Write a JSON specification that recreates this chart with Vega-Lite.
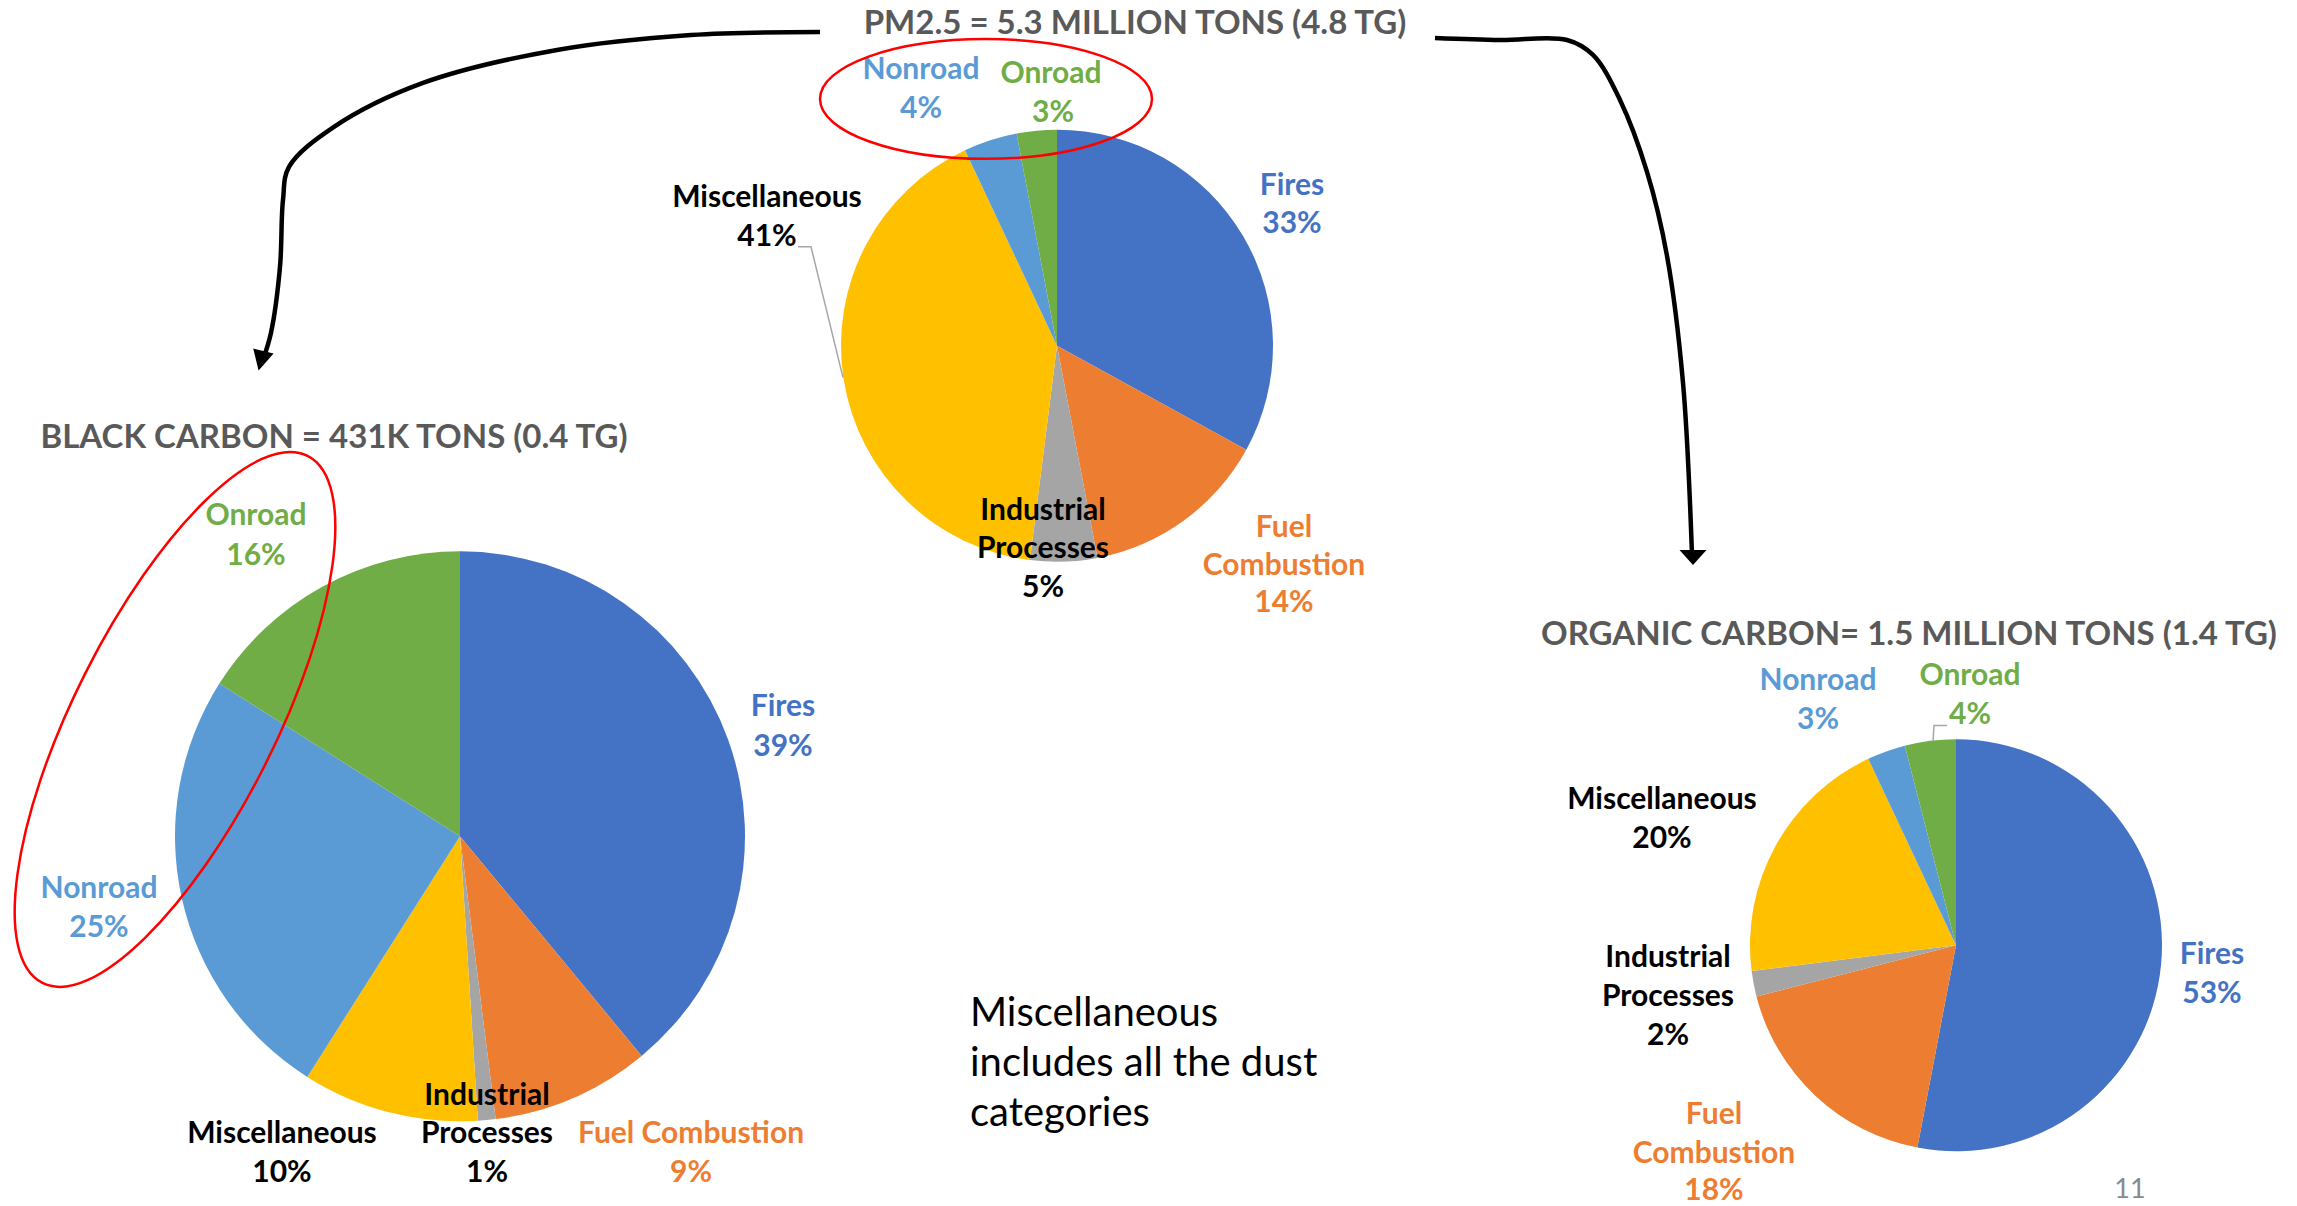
{
  "$schema": "https://vega.github.io/schema/vega-lite/v6.json",
  "width": 2297,
  "height": 1206,
  "autosize": {"type": "fit", "contains": "padding"},
  "padding": 0,
  "background": "white",
  "config": {"view": {"stroke": null}},
  "resolve": {"scale": {"color": "independent", "theta": "independent"}},
  "datasets": {
    "pies": [
      {"chart": "PM2.5", "category": "Fires", "share": 33},
      {"chart": "PM2.5", "category": "Fuel Combustion", "share": 14},
      {"chart": "PM2.5", "category": "Industrial Processes", "share": 5},
      {"chart": "PM2.5", "category": "Miscellaneous", "share": 41},
      {"chart": "PM2.5", "category": "Nonroad", "share": 4},
      {"chart": "PM2.5", "category": "Onroad", "share": 3},
      {"chart": "BC", "category": "Fires", "share": 39},
      {"chart": "BC", "category": "Fuel Combustion", "share": 9},
      {"chart": "BC", "category": "Industrial Processes", "share": 1},
      {"chart": "BC", "category": "Miscellaneous", "share": 10},
      {"chart": "BC", "category": "Nonroad", "share": 25},
      {"chart": "BC", "category": "Onroad", "share": 16},
      {"chart": "OC", "category": "Fires", "share": 53},
      {"chart": "OC", "category": "Fuel Combustion", "share": 18},
      {"chart": "OC", "category": "Industrial Processes", "share": 2},
      {"chart": "OC", "category": "Miscellaneous", "share": 20},
      {"chart": "OC", "category": "Nonroad", "share": 3},
      {"chart": "OC", "category": "Onroad", "share": 4}
    ],
    "labels": [
      {"category": "Nonroad", "text": "Nonroad", "x": 921, "y": 70},
      {"category": "Nonroad", "text": "4%", "x": 921, "y": 109},
      {"category": "Onroad", "text": "Onroad", "x": 1051, "y": 74},
      {"category": "Onroad", "text": "3%", "x": 1053, "y": 113},
      {"category": "Fires", "text": "Fires", "x": 1292, "y": 186},
      {"category": "Fires", "text": "33%", "x": 1292, "y": 224},
      {"category": "Fuel Combustion", "text": "Fuel", "x": 1284, "y": 528},
      {"category": "Fuel Combustion", "text": "Combustion", "x": 1284, "y": 566},
      {"category": "Fuel Combustion", "text": "14%", "x": 1284, "y": 604},
      {"category": "Industrial Processes", "text": "Industrial", "x": 1043, "y": 511},
      {"category": "Industrial Processes", "text": "Processes", "x": 1043, "y": 549},
      {"category": "Industrial Processes", "text": "5%", "x": 1043, "y": 588},
      {"category": "Miscellaneous", "text": "Miscellaneous", "x": 767, "y": 198},
      {"category": "Miscellaneous", "text": "41%", "x": 767, "y": 237},
      {"category": "Onroad", "text": "Onroad", "x": 256, "y": 516},
      {"category": "Onroad", "text": "16%", "x": 256, "y": 556},
      {"category": "Fires", "text": "Fires", "x": 783, "y": 708},
      {"category": "Fires", "text": "39%", "x": 783, "y": 748},
      {"category": "Nonroad", "text": "Nonroad", "x": 99, "y": 890},
      {"category": "Nonroad", "text": "25%", "x": 99, "y": 929},
      {"category": "Miscellaneous", "text": "Miscellaneous", "x": 282, "y": 1135},
      {"category": "Miscellaneous", "text": "10%", "x": 282, "y": 1174},
      {"category": "Industrial Processes", "text": "Industrial", "x": 487, "y": 1097},
      {"category": "Industrial Processes", "text": "Processes", "x": 487, "y": 1135},
      {"category": "Industrial Processes", "text": "1%", "x": 487, "y": 1174},
      {"category": "Fuel Combustion", "text": "Fuel Combustion", "x": 691, "y": 1135},
      {"category": "Fuel Combustion", "text": "9%", "x": 691, "y": 1174},
      {"category": "Nonroad", "text": "Nonroad", "x": 1818, "y": 682},
      {"category": "Nonroad", "text": "3%", "x": 1818, "y": 721},
      {"category": "Onroad", "text": "Onroad", "x": 1970, "y": 677},
      {"category": "Onroad", "text": "4%", "x": 1970, "y": 716},
      {"category": "Miscellaneous", "text": "Miscellaneous", "x": 1662, "y": 801},
      {"category": "Miscellaneous", "text": "20%", "x": 1662, "y": 840},
      {"category": "Industrial Processes", "text": "Industrial", "x": 1668, "y": 959},
      {"category": "Industrial Processes", "text": "Processes", "x": 1668, "y": 998},
      {"category": "Industrial Processes", "text": "2%", "x": 1668, "y": 1037},
      {"category": "Fires", "text": "Fires", "x": 2212, "y": 956},
      {"category": "Fires", "text": "53%", "x": 2212, "y": 995},
      {"category": "Fuel Combustion", "text": "Fuel", "x": 1714, "y": 1116},
      {"category": "Fuel Combustion", "text": "Combustion", "x": 1714, "y": 1155},
      {"category": "Fuel Combustion", "text": "18%", "x": 1714, "y": 1192}
    ],
    "titles": [
      {"text": "PM2.5 = 5.3 MILLION TONS (4.8 TG)", "x": 1135, "y": 24},
      {"text": "BLACK CARBON = 431K TONS (0.4 TG)", "x": 334, "y": 438},
      {"text": "ORGANIC CARBON= 1.5 MILLION TONS (1.4 TG)", "x": 1909, "y": 636}
    ],
    "note": [
      {"text": "Miscellaneous", "x": 970, "y": 1015},
      {"text": "includes all the dust", "x": 970, "y": 1065},
      {"text": "categories", "x": 970, "y": 1115}
    ],
    "page": [
      {"text": "11", "x": 2130, "y": 1191}
    ],
    "arrows": [
      {"path": "left", "seq": 1, "x": 820, "y": 32},
      {"path": "left", "seq": 2, "x": 691, "y": 35},
      {"path": "left", "seq": 3, "x": 557, "y": 50},
      {"path": "left", "seq": 4, "x": 423, "y": 83},
      {"path": "left", "seq": 5, "x": 334, "y": 127},
      {"path": "left", "seq": 6, "x": 289, "y": 167},
      {"path": "left", "seq": 7, "x": 283, "y": 200},
      {"path": "left", "seq": 8, "x": 280, "y": 267},
      {"path": "left", "seq": 9, "x": 271, "y": 333},
      {"path": "left", "seq": 10, "x": 263, "y": 360},
      {"path": "right", "seq": 1, "x": 1435, "y": 38},
      {"path": "right", "seq": 2, "x": 1500, "y": 40},
      {"path": "right", "seq": 3, "x": 1567, "y": 40},
      {"path": "right", "seq": 4, "x": 1593, "y": 55},
      {"path": "right", "seq": 5, "x": 1620, "y": 100},
      {"path": "right", "seq": 6, "x": 1647, "y": 172},
      {"path": "right", "seq": 7, "x": 1667, "y": 256},
      {"path": "right", "seq": 8, "x": 1683, "y": 383},
      {"path": "right", "seq": 9, "x": 1692, "y": 555}
    ],
    "leaders": [
      {"path": "pm", "seq": 1, "x": 798, "y": 247},
      {"path": "pm", "seq": 2, "x": 811, "y": 247},
      {"path": "pm", "seq": 3, "x": 843, "y": 378},
      {"path": "oc", "seq": 1, "x": 1947, "y": 726},
      {"path": "oc", "seq": 2, "x": 1934, "y": 726},
      {"path": "oc", "seq": 3, "x": 1933, "y": 742}
    ]
  },
  "layer": [
    {
      "data": {"name": "pies"},
      "transform": [{"filter": "datum.chart === 'PM2.5'"}],
      "mark": {"type": "arc", "outerRadius": 216, "strokeWidth": 0},
      "encoding": {
        "theta": {"field": "share", "type": "quantitative", "stack": true},
        "order": {"field": "category", "type": "ordinal", "sort": "ascending"},
        "color": {"field": "category", "type": "nominal", "legend": null,
          "scale": {"domain": ["Fires", "Fuel Combustion", "Industrial Processes", "Miscellaneous", "Nonroad", "Onroad"],
                    "range": ["#4472C4", "#ED7D31", "#A5A5A5", "#FFC000", "#5B9BD5", "#70AD47"]}},
        "x": {"datum": 1057, "type": "quantitative", "axis": null, "scale": {"domain": [0, 2297], "nice": false, "zero": false}},
        "y": {"datum": 346, "type": "quantitative", "axis": null, "scale": {"domain": [0, 1206], "nice": false, "zero": false, "reverse": true}}
      }
    },
    {
      "data": {"name": "pies"},
      "transform": [{"filter": "datum.chart === 'BC'"}],
      "mark": {"type": "arc", "outerRadius": 285, "strokeWidth": 0},
      "encoding": {
        "theta": {"field": "share", "type": "quantitative", "stack": true},
        "order": {"field": "category", "type": "ordinal", "sort": "ascending"},
        "color": {"field": "category", "type": "nominal", "legend": null,
          "scale": {"domain": ["Fires", "Fuel Combustion", "Industrial Processes", "Miscellaneous", "Nonroad", "Onroad"],
                    "range": ["#4472C4", "#ED7D31", "#A5A5A5", "#FFC000", "#5B9BD5", "#70AD47"]}},
        "x": {"datum": 460, "type": "quantitative", "axis": null, "scale": {"domain": [0, 2297], "nice": false, "zero": false}},
        "y": {"datum": 837, "type": "quantitative", "axis": null, "scale": {"domain": [0, 1206], "nice": false, "zero": false, "reverse": true}}
      }
    },
    {
      "data": {"name": "pies"},
      "transform": [{"filter": "datum.chart === 'OC'"}],
      "mark": {"type": "arc", "outerRadius": 206, "strokeWidth": 0},
      "encoding": {
        "theta": {"field": "share", "type": "quantitative", "stack": true},
        "order": {"field": "category", "type": "ordinal", "sort": "ascending"},
        "color": {"field": "category", "type": "nominal", "legend": null,
          "scale": {"domain": ["Fires", "Fuel Combustion", "Industrial Processes", "Miscellaneous", "Nonroad", "Onroad"],
                    "range": ["#4472C4", "#ED7D31", "#A5A5A5", "#FFC000", "#5B9BD5", "#70AD47"]}},
        "x": {"datum": 1956, "type": "quantitative", "axis": null, "scale": {"domain": [0, 2297], "nice": false, "zero": false}},
        "y": {"datum": 946, "type": "quantitative", "axis": null, "scale": {"domain": [0, 1206], "nice": false, "zero": false, "reverse": true}}
      }
    },
    {
      "data": {"name": "leaders"},
      "mark": {"type": "line", "stroke": "#A6A6A6", "strokeWidth": 1.5, "interpolate": "linear"},
      "encoding": {
        "x": {"field": "x", "type": "quantitative", "axis": null, "scale": {"domain": [0, 2297], "nice": false, "zero": false}},
        "y": {"field": "y", "type": "quantitative", "axis": null, "scale": {"domain": [0, 1206], "nice": false, "zero": false, "reverse": true}},
        "detail": {"field": "path", "type": "nominal"},
        "order": {"field": "seq", "type": "quantitative"}
      }
    },
    {
      "data": {"name": "labels"},
      "mark": {"type": "text", "font": "Lato", "fontWeight": "bold", "fontSize": 30, "align": "center", "baseline": "middle"},
      "encoding": {
        "x": {"field": "x", "type": "quantitative", "axis": null, "scale": {"domain": [0, 2297], "nice": false, "zero": false}},
        "y": {"field": "y", "type": "quantitative", "axis": null, "scale": {"domain": [0, 1206], "nice": false, "zero": false, "reverse": true}},
        "text": {"field": "text", "type": "nominal"},
        "color": {"field": "category", "type": "nominal", "legend": null,
          "scale": {"domain": ["Fires", "Fuel Combustion", "Industrial Processes", "Miscellaneous", "Nonroad", "Onroad"],
                    "range": ["#4472C4", "#ED7D31", "#000000", "#000000", "#5B9BD5", "#70AD47"]}}
      }
    },
    {
      "data": {"name": "titles"},
      "mark": {"type": "text", "font": "Lato", "fontWeight": "bold", "fontSize": 33, "align": "center", "baseline": "middle", "color": "#595959"},
      "encoding": {
        "x": {"field": "x", "type": "quantitative", "axis": null, "scale": {"domain": [0, 2297], "nice": false, "zero": false}},
        "y": {"field": "y", "type": "quantitative", "axis": null, "scale": {"domain": [0, 1206], "nice": false, "zero": false, "reverse": true}},
        "text": {"field": "text", "type": "nominal"}
      }
    },
    {
      "data": {"name": "note"},
      "mark": {"type": "text", "font": "Lato", "fontSize": 40, "align": "left", "baseline": "middle", "color": "#000000"},
      "encoding": {
        "x": {"field": "x", "type": "quantitative", "axis": null, "scale": {"domain": [0, 2297], "nice": false, "zero": false}},
        "y": {"field": "y", "type": "quantitative", "axis": null, "scale": {"domain": [0, 1206], "nice": false, "zero": false, "reverse": true}},
        "text": {"field": "text", "type": "nominal"}
      }
    },
    {
      "data": {"name": "page"},
      "mark": {"type": "text", "font": "Lato", "fontSize": 27, "align": "center", "baseline": "middle", "color": "#898989"},
      "encoding": {
        "x": {"field": "x", "type": "quantitative", "axis": null, "scale": {"domain": [0, 2297], "nice": false, "zero": false}},
        "y": {"field": "y", "type": "quantitative", "axis": null, "scale": {"domain": [0, 1206], "nice": false, "zero": false, "reverse": true}},
        "text": {"field": "text", "type": "nominal"}
      }
    },
    {
      "data": {"values": [{}]},
      "mark": {"type": "point", "filled": false, "stroke": "#FF0000", "strokeWidth": 2.5, "opacity": 1, "size": 110224,
               "shape": "M-1,0 C-1,-0.199 -0.552,-0.361 0,-0.361 C0.552,-0.361 1,-0.199 1,0 C1,0.199 0.552,0.361 0,0.361 C-0.552,0.361 -1,0.199 -1,0 Z"},
      "encoding": {
        "x": {"datum": 986, "type": "quantitative", "axis": null, "scale": {"domain": [0, 2297], "nice": false, "zero": false}},
        "y": {"datum": 99, "type": "quantitative", "axis": null, "scale": {"domain": [0, 1206], "nice": false, "zero": false, "reverse": true}}
      }
    },
    {
      "data": {"values": [{}]},
      "mark": {"type": "point", "filled": false, "stroke": "#FF0000", "strokeWidth": 2.5, "opacity": 1, "size": 348100, "angle": -63.3,
               "shape": "M-1,0 C-1,-0.189 -0.552,-0.342 0,-0.342 C0.552,-0.342 1,-0.189 1,0 C1,0.189 0.552,0.342 0,0.342 C-0.552,0.342 -1,0.189 -1,0 Z"},
      "encoding": {
        "x": {"datum": 175, "type": "quantitative", "axis": null, "scale": {"domain": [0, 2297], "nice": false, "zero": false}},
        "y": {"datum": 720, "type": "quantitative", "axis": null, "scale": {"domain": [0, 1206], "nice": false, "zero": false, "reverse": true}}
      }
    },
    {
      "data": {"name": "arrows"},
      "mark": {"type": "line", "stroke": "#000000", "strokeWidth": 4.5, "interpolate": "catmull-rom", "strokeCap": "butt"},
      "encoding": {
        "x": {"field": "x", "type": "quantitative", "axis": null, "scale": {"domain": [0, 2297], "nice": false, "zero": false}},
        "y": {"field": "y", "type": "quantitative", "axis": null, "scale": {"domain": [0, 1206], "nice": false, "zero": false, "reverse": true}},
        "detail": {"field": "path", "type": "nominal"},
        "order": {"field": "seq", "type": "quantitative"}
      }
    },
    {
      "data": {"values": [{}]},
      "mark": {"type": "point", "filled": true, "fill": "#000000", "strokeWidth": 0, "opacity": 1, "size": 441, "angle": 14,
               "shape": "M-1,-0.95 L1,-0.95 L0,0.95 Z"},
      "encoding": {
        "x": {"datum": 261, "type": "quantitative", "axis": null, "scale": {"domain": [0, 2297], "nice": false, "zero": false}},
        "y": {"datum": 361, "type": "quantitative", "axis": null, "scale": {"domain": [0, 1206], "nice": false, "zero": false, "reverse": true}}
      }
    },
    {
      "data": {"values": [{}]},
      "mark": {"type": "point", "filled": true, "fill": "#000000", "strokeWidth": 0, "opacity": 1, "size": 729,
               "shape": "M-1,-0.55 L1,-0.55 L0,0.55 Z"},
      "encoding": {
        "x": {"datum": 1693, "type": "quantitative", "axis": null, "scale": {"domain": [0, 2297], "nice": false, "zero": false}},
        "y": {"datum": 558, "type": "quantitative", "axis": null, "scale": {"domain": [0, 1206], "nice": false, "zero": false, "reverse": true}}
      }
    }
  ]
}
